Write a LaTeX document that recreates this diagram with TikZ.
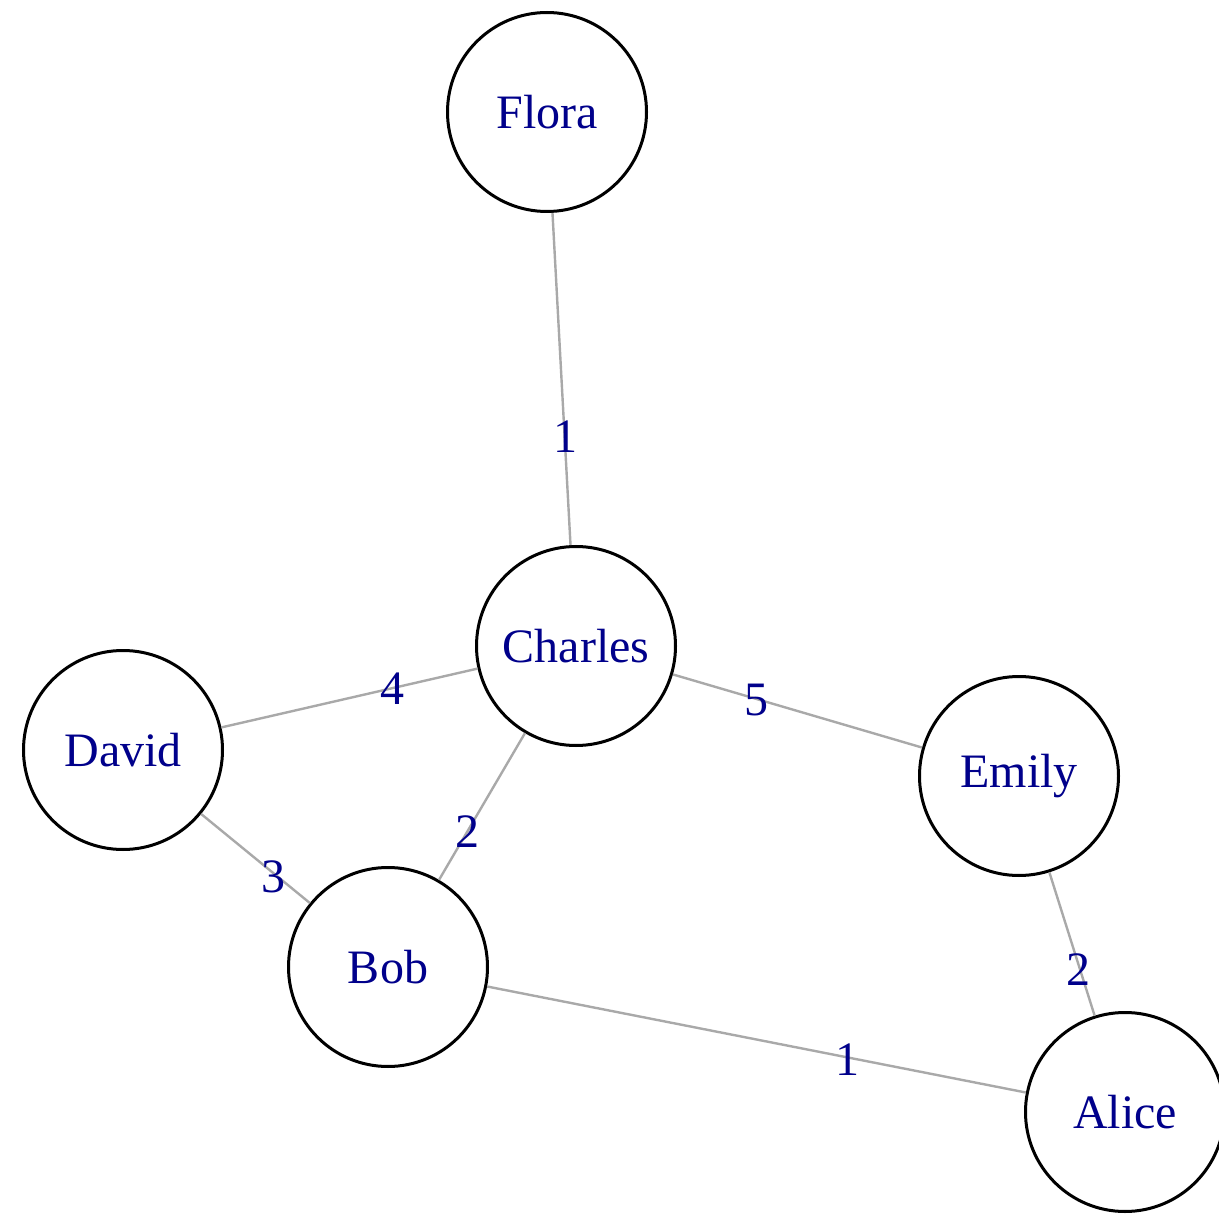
\documentclass[tikz,border=0pt]{standalone}
\usepackage{fontspec}
\setmainfont{Liberation Serif}
\definecolor{lblue}{HTML}{00008B}
\definecolor{egray}{HTML}{A9A9A9}
\begin{document}
\begin{tikzpicture}[x=1pt,y=-1pt,
  vert/.style={circle,draw=black,line width=3pt,fill=white,minimum size=199pt,inner sep=0pt,
    text=lblue,font=\fontsize{48}{56}\selectfont},
  edge/.style={draw=egray,line width=2.4pt},
  elab/.style={text=lblue,font=\fontsize{48}{56}\selectfont,inner sep=0pt}]
\useasboundingbox (0,0) rectangle (1219,1214);
\node[vert] (flora) at (547,112) {Flora};
\node[vert] (charles) at (576,646) {Charles};
\node[vert] (david) at (123,750) {David};
\node[vert] (emily) at (1019,776) {Emily};
\node[vert] (bob) at (388,967) {Bob};
\node[vert] (alice) at (1125,1112) {Alice};
\draw[edge] (flora) -- (charles);
\draw[edge] (david) -- (charles);
\draw[edge] (charles) -- (emily);
\draw[edge] (charles) -- (bob);
\draw[edge] (david) -- (bob);
\draw[edge] (emily) -- (alice);
\draw[edge] (bob) -- (alice);
\node[elab] (l1) at (565,437) {1};
\node[elab] (l2) at (392,689) {4};
\node[elab] (l3) at (756,700) {5};
\node[elab] (l4) at (467,832) {2};
\node[elab] (l5) at (273,877) {3};
\node[elab] (l6) at (1078,970) {2};
\node[elab] (l7) at (847,1060) {1};
\end{tikzpicture}
\end{document}
